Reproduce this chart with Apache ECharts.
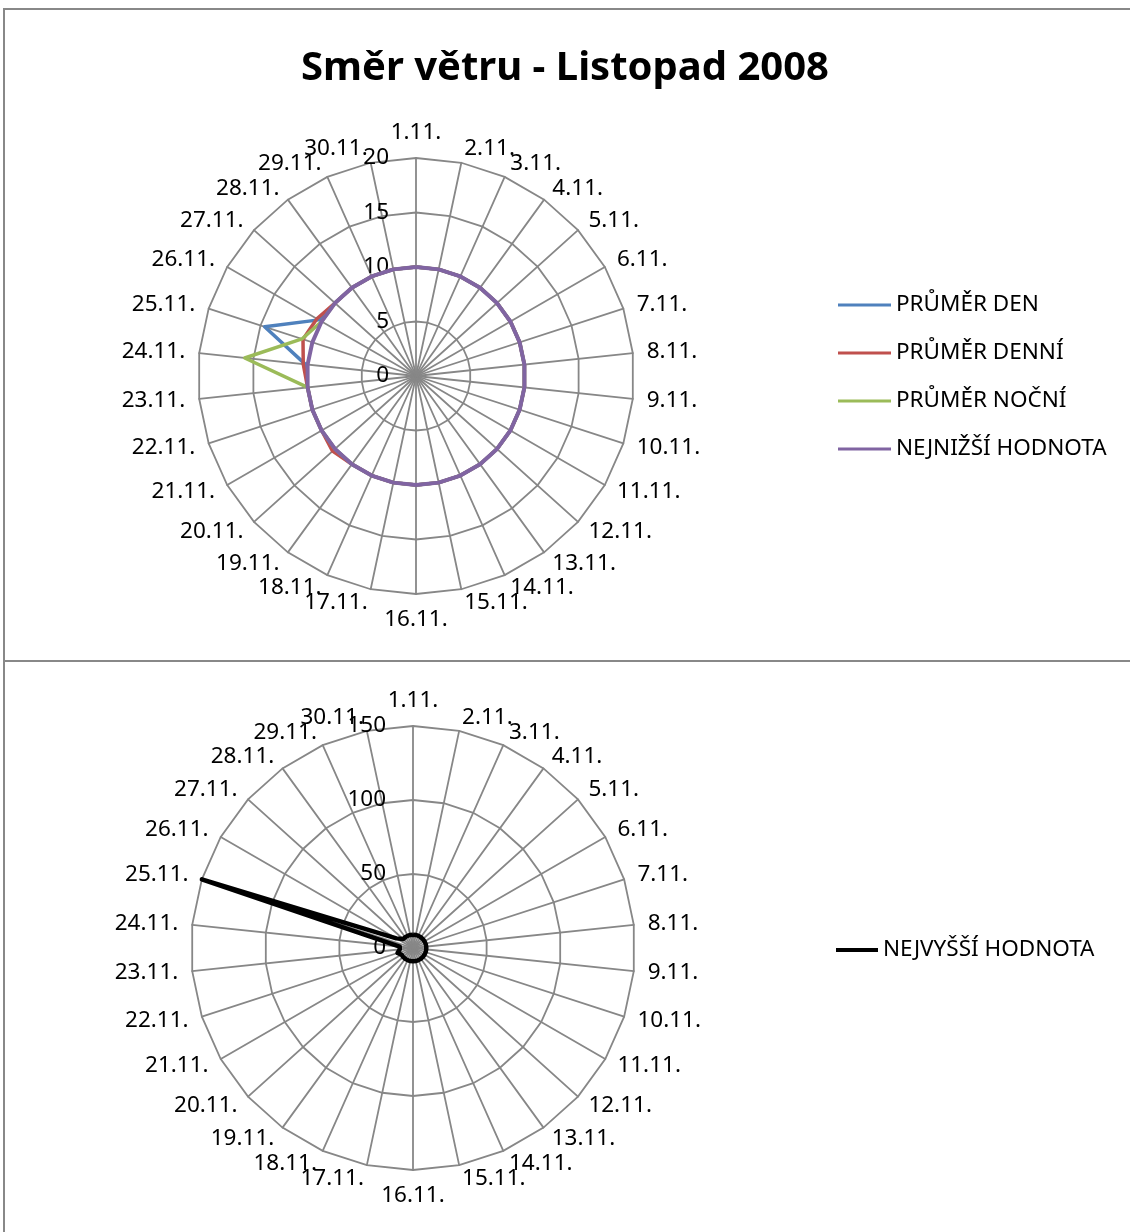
<!DOCTYPE html>
<html>
<head>
<meta charset="utf-8">
<script src="https://cdn.jsdelivr.net/npm/echarts@6/dist/echarts.min.js"></script>
<style>
html, body { margin: 0; padding: 0; background: #fff; overflow: hidden; }
#chart { position: absolute; left: 0; top: 0; width: 1130px; height: 1232px; }
.frame { position: absolute; left: 3px; width: 1200px; border: 2px solid #888; box-sizing: border-box; }
</style>
</head>
<body>
<div class="frame" style="top:8px;height:654px"></div>
<div class="frame" style="top:660px;height:700px"></div>
<div id="chart"></div>
<script>
var days = ['1.11.', '2.11.', '3.11.', '4.11.', '5.11.', '6.11.', '7.11.', '8.11.', '9.11.', '10.11.',
  '11.11.', '12.11.', '13.11.', '14.11.', '15.11.', '16.11.', '17.11.', '18.11.', '19.11.', '20.11.',
  '21.11.', '22.11.', '23.11.', '24.11.', '25.11.', '26.11.', '27.11.', '28.11.', '29.11.', '30.11.'];

// top chart
var prumerDen = [10, 10, 10, 10, 10, 10, 10, 10, 10, 10, 10, 10, 10, 10, 10, 10, 10, 10, 10, 10,
  10, 10, 10, 10.2, 14.6, 10.3, 10, 10, 10, 10];
var prumerDenni = [10, 10, 10, 10, 10, 10, 10, 10, 10, 10, 10, 10, 10, 10, 10, 10, 10, 10, 10, 10.3,
  10, 10, 10, 10.4, 10.9, 10.5, 10, 10, 10, 10];
var prumerNocni = [10, 10, 10, 10, 10, 10, 10, 10, 10, 10, 10, 10, 10, 10, 10, 10, 10, 10, 10, 10,
  10, 10, 10, 15.8, 11, 10, 10, 10, 10, 10];
var nejnizsi = [10, 10, 10, 10, 10, 10, 10, 10, 10, 10, 10, 10, 10, 10, 10, 10, 10, 10, 10, 10,
  10, 10, 10, 10, 10, 10, 10, 10, 10, 10];

// bottom chart
var nejvyssi = [9, 9, 9, 9, 9, 9, 9, 9, 9, 9, 9, 9, 9, 9, 9, 9, 9, 9, 9, 9,
  9, 11, 9, 9, 150, 13, 9, 9, 9, 9];

var topTicks = [0, 5, 10, 15, 20];
var bottomTicks = [0, 50, 100, 150];

var FONT = '"Noto Sans", "Open Sans", sans-serif';
var GRID = '#878787';

// echarts radar runs counter-clockwise, Excel runs clockwise
function clockwise(arr) {
  var out = [arr[0]];
  for (var i = arr.length - 1; i > 0; --i) out.push(arr[i]);
  return out;
}

function radarConf(center, radius, ticks, nameGap) {
  var names = clockwise(days);
  return {
    center: center,
    radius: radius,
    startAngle: 90,
    shape: 'polygon',
    splitNumber: ticks.length - 1,
    axisNameGap: nameGap,
    axisName: { color: '#000', fontSize: 22.5, fontFamily: FONT },
    axisLine: { lineStyle: { color: GRID, width: 1.8 } },
    splitLine: { lineStyle: { color: GRID, width: 1.8 } },
    splitArea: { show: false },
    axisTick: { show: false },
    axisLabel: { show: false, color: '#000', fontSize: 22.5, fontFamily: FONT, margin: 27 },
    indicator: names.map(function (n, i) {
      var ind = { name: n, min: ticks[0], max: ticks[ticks.length - 1] };
      if (i === 0) ind.axisLabel = { show: true };
      return ind;
    })
  };
}

function item(name, values, color, width) {
  return {
    name: name,
    value: clockwise(values),
    lineStyle: { color: color, width: width },
    itemStyle: { color: color }
  };
}

var chart = echarts.init(document.getElementById('chart'), null, { renderer: 'canvas' });

chart.setOption({
  animation: false,
  title: {
    text: 'Směr větru - Listopad 2008',
    left: 'center',
    top: 44,
    textStyle: { fontSize: 40, fontWeight: 'bold', color: '#000', fontFamily: FONT }
  },
  legend: [{
    orient: 'vertical',
    left: 833,
    top: 287,
    icon: 'rect',
    itemWidth: 53,
    itemHeight: 3,
    itemGap: 22,
    textStyle: { fontSize: 22.5, lineHeight: 26, color: '#000', fontFamily: FONT },
    data: ['PRŮMĚR DEN', 'PRŮMĚR DENNÍ', 'PRŮMĚR NOČNÍ', 'NEJNIŽŠÍ HODNOTA']
  }, {
    orient: 'vertical',
    left: 831,
    top: 932,
    icon: 'rect',
    itemWidth: 42,
    itemHeight: 4,
    textStyle: { fontSize: 22.5, lineHeight: 26, color: '#000', fontFamily: FONT },
    data: ['NEJVYŠŠÍ HODNOTA']
  }],
  radar: [
    radarConf([416, 376], 218, topTicks, 14),
    radarConf([413, 948], 222, bottomTicks, 14)
  ],
  series: [{
    type: 'radar',
    radarIndex: 0,
    symbol: 'none',
    data: [
      item('PRŮMĚR DEN', prumerDen, '#4F81BD', 3.5),
      item('PRŮMĚR DENNÍ', prumerDenni, '#C0504D', 3.5),
      item('PRŮMĚR NOČNÍ', prumerNocni, '#9BBB59', 3.5),
      item('NEJNIŽŠÍ HODNOTA', nejnizsi, '#8064A2', 4)
    ]
  }, {
    type: 'radar',
    radarIndex: 1,
    symbol: 'none',
    data: [
      item('NEJVYŠŠÍ HODNOTA', nejvyssi, '#000000', 4.5)
    ]
  }]
});
</script>
</body>
</html>
